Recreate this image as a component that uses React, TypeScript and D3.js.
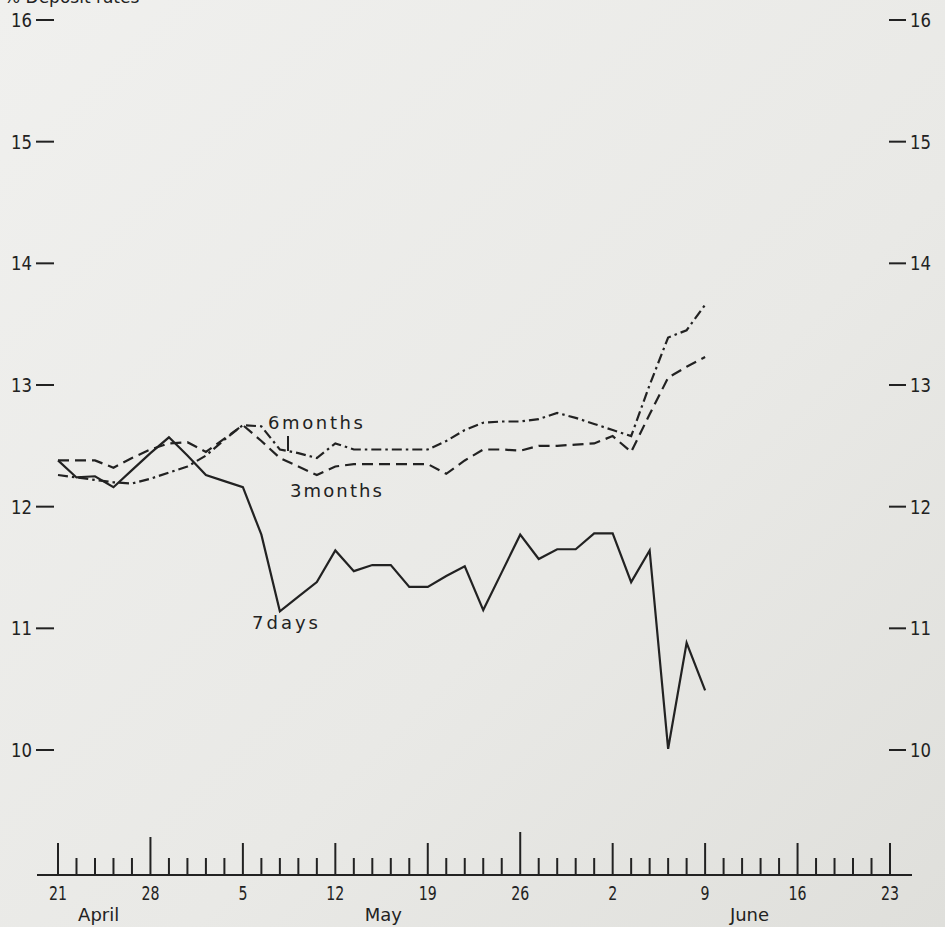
import React from "react";
import * as d3 from "d3";

const W = 945;
const H = 927;

// Business days from Mon 21 April (index 0) to Mon 9 June (index 35)
const sevenDays = [
  12.38, 12.24, 12.25, 12.16, 12.3, 12.44, 12.57, 12.42, 12.26, 12.21,
  12.16, 11.77, 11.14, 11.26, 11.38, 11.64, 11.47, 11.52, 11.52, 11.34,
  11.34, 11.43, 11.51, 11.15, 11.46, 11.77, 11.57, 11.65, 11.65, 11.78,
  11.78, 11.38, 11.64, 10.01, 10.88, 10.49,
];
const threeMonths = [
  12.38, 12.38, 12.38, 12.32, 12.4, 12.47, 12.52, 12.53, 12.45, 12.56,
  12.67, 12.54, 12.4, 12.33, 12.26, 12.33, 12.35, 12.35, 12.35, 12.35,
  12.35, 12.27, 12.38, 12.47, 12.47, 12.46, 12.5, 12.5, 12.51, 12.52,
  12.58, 12.45, 12.76, 13.06, 13.15, 13.23,
];
const sixMonths = [
  12.26, 12.24, 12.22, 12.2, 12.19, 12.23, 12.28, 12.33, 12.42, 12.55,
  12.67, 12.66, 12.47, 12.44, 12.4, 12.52, 12.47, 12.47, 12.47, 12.47,
  12.47, 12.54, 12.63, 12.69, 12.7, 12.7, 12.72, 12.77, 12.73, 12.68,
  12.63, 12.58, 13.0, 13.39, 13.45, 13.66,
];

const yTicks = [10, 11, 12, 13, 14, 15, 16];
const mondayLabels = ["21", "28", "5", "12", "19", "26", "2", "9", "16", "23"];
const mondayEmphasis = [0, 1, 0, 0, 0, 2, 0, 0, 0, 0];
const monthLabels = ["April", "May", "June"];
const monthAt = [2.2, 17.6, 37.4];
const seriesLabels = ["7days", "3months", "6months"];
const titleText = "% Deposit rates";

const totalDays = 46; // 21 Apr .. 23 Jun, weekdays only

const INK = "#222222";

export default function App() {
  const x = d3.scaleLinear().domain([0, totalDays - 1]).range([58, 890]);
  const y = d3.scaleLinear().domain([10, 16]).range([750, 20]);
  const line = d3
    .line<number>()
    .x((_, i) => x(i))
    .y((d) => y(d));

  const axisY = 875;
  const dayIdx = d3.range(totalDays);

  const tickHeight = (i: number) => {
    if (i % 5 !== 0) return 17;
    const e = mondayEmphasis[i / 5];
    return e === 2 ? 43 : e === 1 ? 38 : 32;
  };

  const font = "'DejaVu Sans', 'Liberation Sans', sans-serif";

  return (
    <svg
      width={W}
      height={H}
      style={{ position: "absolute", left: 0, top: 0 }}
      fontFamily={font}
    >
      <defs>
        <linearGradient id="paper" x1="0" y1="0" x2="1" y2="1">
          <stop offset="0" stopColor="#f0f0ee" />
          <stop offset="0.6" stopColor="#e9e9e6" />
          <stop offset="1" stopColor="#dfdfdb" />
        </linearGradient>
      </defs>
      <rect width={W} height={H} fill="url(#paper)" />

      {/* title, cut off at the top edge as in the source */}
      <text x={4} y={3} fontSize={17} fill={INK}>
        {titleText}
      </text>

      {/* y axis labels left and right */}
      {yTicks.map((t) => (
        <g key={t}>
          <text
            x={32}
            y={y(t) + 7}
            fontSize={20}
            textAnchor="end"
            fill={INK}
            textLength={21}
            lengthAdjust="spacingAndGlyphs"
          >
            {t}
          </text>
          <line x1={36} x2={54} y1={y(t)} y2={y(t)} stroke={INK} strokeWidth={2} />
          <line x1={889} x2={906} y1={y(t)} y2={y(t)} stroke={INK} strokeWidth={2} />
          <text
            x={910}
            y={y(t) + 7}
            fontSize={20}
            fill={INK}
            textLength={21}
            lengthAdjust="spacingAndGlyphs"
          >
            {t}
          </text>
        </g>
      ))}

      {/* series */}
      <path
        d={line(sevenDays) || ""}
        fill="none"
        stroke={INK}
        strokeWidth={2.2}
      />
      <path
        d={line(threeMonths) || ""}
        fill="none"
        stroke={INK}
        strokeWidth={2.2}
        strokeDasharray="11 6"
      />
      <path
        d={line(sixMonths) || ""}
        fill="none"
        stroke={INK}
        strokeWidth={2.2}
        strokeDasharray="10 4 2.5 4"
      />

      {/* series labels */}
      <text x={252} y={629} fontSize={18} fill={INK} textLength={66} lengthAdjust="spacing">
        {seriesLabels[0]}
      </text>
      <text x={290} y={497} fontSize={18} fill={INK} textLength={92} lengthAdjust="spacing">
        {seriesLabels[1]}
      </text>
      <text x={268} y={429} fontSize={18} fill={INK} textLength={95} lengthAdjust="spacing">
        {seriesLabels[2]}
      </text>
      <line x1={288} x2={288} y1={436} y2={451} stroke={INK} strokeWidth={2} />

      {/* x axis */}
      <line x1={37} x2={912} y1={axisY} y2={axisY} stroke={INK} strokeWidth={2} />
      {dayIdx.map((i) => (
        <line
          key={i}
          x1={x(i)}
          x2={x(i)}
          y1={axisY}
          y2={axisY - tickHeight(i)}
          stroke={INK}
          strokeWidth={2}
        />
      ))}
      {mondayLabels.map((lab, k) => (
        <text
          key={lab + k}
          x={x(k * 5)}
          y={900}
          fontSize={20}
          textAnchor="middle"
          fill={INK}
          textLength={lab.length * 9}
          lengthAdjust="spacingAndGlyphs"
        >
          {lab}
        </text>
      ))}
      {monthLabels.map((m, k) => (
        <text
          key={m}
          x={x(monthAt[k])}
          y={921}
          fontSize={18}
          textAnchor="middle"
          fill={INK}
        >
          {m}
        </text>
      ))}
    </svg>
  );
}
